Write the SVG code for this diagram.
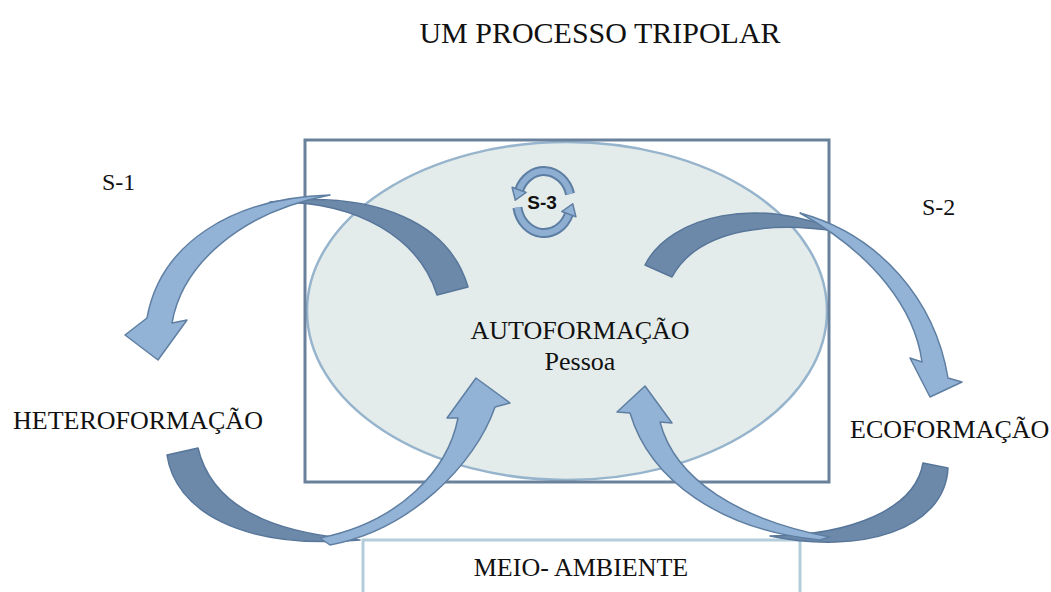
<svg xmlns="http://www.w3.org/2000/svg" width="1051" height="592" viewBox="0 0 1051 592">
<style>
.t{font-family:"Liberation Serif","Times New Roman",serif;fill:#111;font-size:26px}
.dark{fill:#6c89aa;stroke:#58769a;stroke-width:1.5;stroke-linejoin:round}
.light{fill:#92b2d6;stroke:#5f7fa2;stroke-width:1.5;stroke-linejoin:round}
.loopo{fill:none;stroke:#5d7ea3;stroke-width:10}
.loopi{fill:none;stroke:#8eaed2;stroke-width:6}
</style>
<rect width="1051" height="592" fill="#fff"/>
<text class="t" x="600" y="43" text-anchor="middle" style="font-size:30px">UM PROCESSO TRIPOLAR</text>
<g id="autoformacao">
<ellipse cx="567" cy="311" rx="260" ry="169" fill="#e3ecea" stroke="#97b4cd" stroke-width="2.5"/>
<rect x="305" y="140" width="524" height="342" fill="none" stroke="#6a819b" stroke-width="3"/>
<text class="t" x="580" y="339" text-anchor="middle">AUTOFORMAÇÃO</text>
<text class="t" x="580" y="370" text-anchor="middle">Pessoa</text>
</g>
<g id="meio-ambiente">
<rect x="363" y="540" width="437" height="70" fill="#fff" stroke="#b4cddb" stroke-width="3"/>
<text class="t" x="581" y="576" text-anchor="middle">MEIO- AMBIENTE</text>
</g>
<g id="heteroformacao"><text class="t" x="13" y="429">HETEROFORMAÇÃO</text></g>
<g id="ecoformacao"><text class="t" x="850" y="438">ECOFORMAÇÃO</text></g>
<g id="s1"><text class="t" x="102" y="190" style="font-size:24px">S-1</text></g>
<g id="s2"><text class="t" x="922" y="215" style="font-size:24px">S-2</text></g>
<g id="connectors">
<path class="dark" d="M437,295 L468,287 C450,225 380,190 270,202 C360,200 420,240 437,295 Z"/>
<path class="light" d="M330,195 C230,198 160,245 147,318 L125,335 L158,360 L187,320 L172,323 C182,265 240,212 330,195 Z"/>
<path class="dark" d="M672,277 L645,265 C670,215 760,195 840,232 C780,222 700,225 672,277 Z"/>
<path class="light" d="M800,213 C880,235 935,300 948,378 L962,382 L930,397 L910,358 L922,362 C915,310 875,255 800,213 Z"/>
<path class="dark" d="M198,448 L167,455 C175,510 240,550 360,540 C300,535 215,520 198,448 Z"/>
<path class="light" d="M330,545 C410,530 475,465 495,407 L510,403 L476,378 L447,418 L458,418 C448,470 400,522 320,538 Z"/>
<path class="dark" d="M923,463 L948,468 C945,530 860,555 770,536 C850,535 915,510 923,463 Z"/>
<path class="light" d="M820,540 C720,530 650,480 630,413 L617,412 L645,386 L672,423 L660,422 C675,480 740,520 830,537 Z"/>
</g>
<g id="s3">
<path class="loopo" d="M570.1,194 A27 31 0 0 0 519.2,189.9"/>
<path class="loopi" d="M570.1,194 A27 31 0 0 0 519.2,189.9"/>
<polygon class="light" points="512.1,187.3 515.3,200.2 526.2,192.5"/>
<path class="loopo" d="M517.4,207.4 A27 31 0 0 0 568.9,214.1"/>
<path class="loopi" d="M517.4,207.4 A27 31 0 0 0 568.9,214.1"/>
<polygon class="light" points="575.9,216.7 572.7,203.8 561.8,211.5"/>
<text x="542" y="209" text-anchor="middle" style="font-family:'Liberation Sans',Arial,sans-serif;font-weight:bold;font-size:19px;fill:#111">S-3</text>
</g>
</svg>
